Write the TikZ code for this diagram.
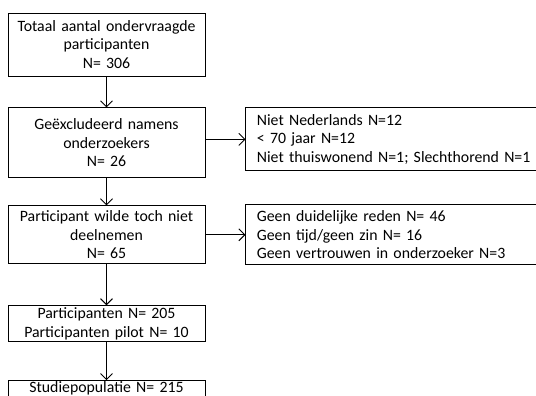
\documentclass[tikz,border=0pt]{standalone}
\usepackage{fontspec}
\setmainfont{Carlito}
\usetikzlibrary{positioning, arrows.meta}
\tikzset{
  mainbox/.style={rectangle, draw=black, line width=0.9pt, minimum width=197pt, text width=193pt, align=center, inner xsep=2pt, inner ysep=2pt},
  sidebox/.style={rectangle, draw=black, line width=0.9pt, minimum width=320pt, text width=300pt, align=left, inner xsep=11pt, inner ysep=2pt},
  arrow/.style={line width=0.9pt, -{Straight Barb[length=6pt, width=12pt, line width=0.9pt]}}
}

\begin{document}
\begin{tikzpicture}[
            x=1pt, y=-1pt,
            every node/.style={font=\fontsize{15.8}{18.5}\selectfont}
        ]
            \useasboundingbox (0,0) rectangle (536,396);

            % --- Nodos ---
            \node (totaal) [mainbox, minimum height=63pt] at (106.5,44.5) {Totaal aantal ondervraagde\\ participanten\\ N= 306};

            \node (excl) [mainbox, minimum height=70pt, below=31pt of totaal] {Geëxcludeerd namens\\ onderzoekers\\ N= 26};

            \node (weiger) [mainbox, minimum height=58pt, below=27pt of excl] {Participant wilde toch niet\\ deelnemen\\ N= 65};

            \node (part) [mainbox, minimum height=36pt, below=41pt of weiger] {Participanten N= 205\\ Participanten pilot N= 10};

            \node (studie) [mainbox, inner ysep=0.5pt, text depth=12pt, below=38pt of part] {Studiepopulatie N= 215};

            \node (redenexcl) [sidebox, minimum height=63pt, right=40pt of excl.north east, anchor=north west] {Niet Nederlands N=12\\ < 70 jaar N=12\\ Niet thuiswonend N=1; Slechthorend N=1};

            \node (redenweiger) [sidebox, minimum height=60pt, right=40pt of weiger] {Geen duidelijke reden N= 46\\ Geen tijd/geen zin N= 16\\ Geen vertrouwen in onderzoeker N=3};

            % --- Conexiones ---
            \draw [arrow] (totaal) -- (excl);
            \draw [arrow] (excl) -- (weiger);
            \draw [arrow] (weiger) -- (part);
            \draw [arrow] (part) -- (studie);
            \draw [arrow] (excl.east |- redenexcl.west) -- (redenexcl.west);
            \draw [arrow] (weiger) -- (redenweiger);

        \end{tikzpicture}
\end{document}
